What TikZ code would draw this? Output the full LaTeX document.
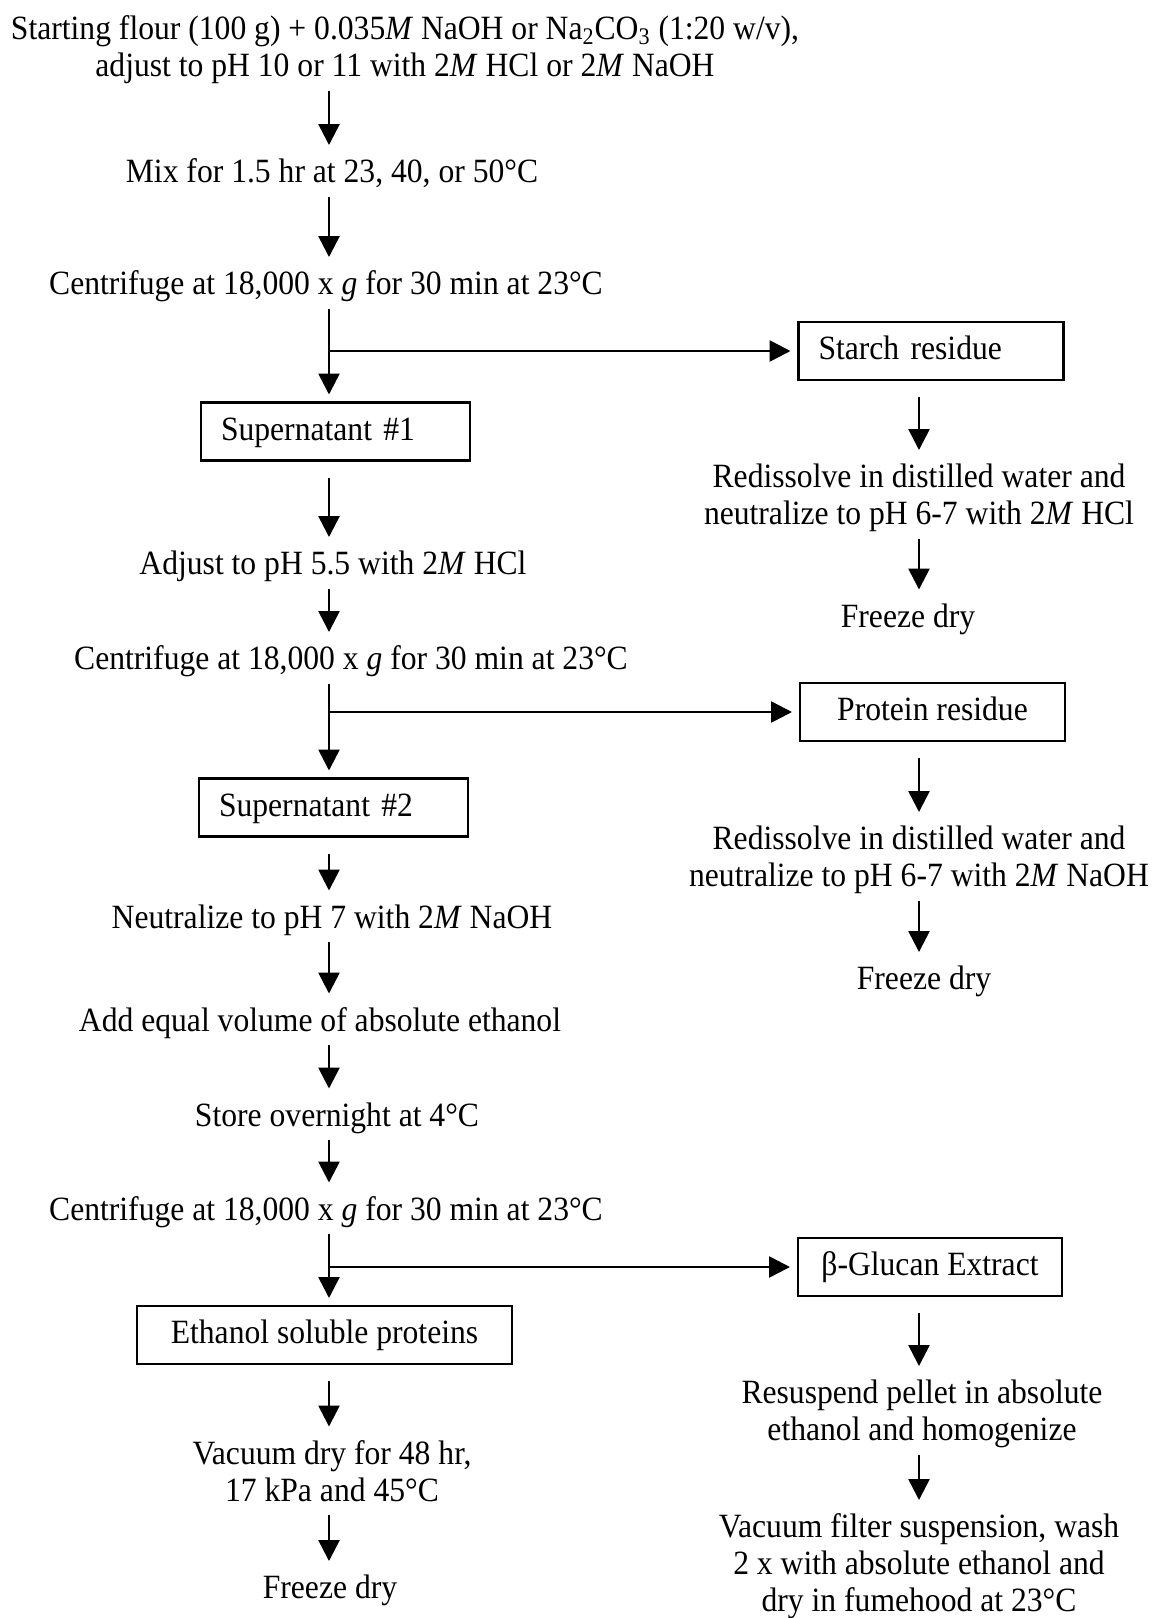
\documentclass[tikz,border=0pt]{standalone}
\usepackage{fontspec}
\setmainfont{Liberation Serif}[FakeStretch=0.93]
\usetikzlibrary{arrows.meta}
\newcommand{\mys}{\rule[-0.22em]{0pt}{0.94em}}
\begin{document}
\begin{tikzpicture}[x=0.5pt,y=-0.5pt,
  every node/.style={font=\fontsize{17}{18.5}\selectfont},
  txt/.style={inner sep=0pt, outer xsep=0pt, outer ysep=3.5pt, align=center},
  box/.style={draw, line width=1.2pt, inner sep=0pt, minimum height=29pt, outer sep=4pt, align=center},
  lbox/.style={box, inner xsep=10pt, text width=#1, align=left},
  arr/.style={line width=1.3pt, -{Triangle[length=10.5pt,width=10.5pt]}},
  from box/.style={shorten <=4.5pt},
  totxt/.style={shorten >=3pt}
]
\useasboundingbox (0,0) rectangle (1155,1618);
\coordinate (L) at (329,0);
\coordinate (R) at (919,0);

% left column
\node[txt] (t1) at (405,49.5) {\mys Starting flour (100 g) + 0.035\textit{M} NaOH or Na\textsubscript{2}CO\textsubscript{3} (1:20 w/v),\\\mys adjust to pH 10 or 11 with 2\textit{M} HCl or 2\textit{M} NaOH};
\node[txt] (t2) at (332,174) {\mys Mix for 1.5 hr at 23, 40, or 50°C};
\node[txt] (t3) at (326,286) {\mys Centrifuge at 18,000 x \textit{g} for 30 min at 23°C};
\node[lbox=112.5pt] (starch) at (931,351) {\mys Starch residue};
\node[lbox=114.5pt] (s1) at (335.5,431.5) {\mys Supernatant \#1};
\node[txt] (t4) at (333,566) {\mys Adjust to pH 5.5 with 2\textit{M} HCl};
\node[txt] (t5) at (351,661) {\mys Centrifuge at 18,000 x \textit{g} for 30 min at 23°C};
\node[box, minimum width=132.5pt] (protein) at (932.5,712) {\mys Protein residue};
\node[lbox=114.5pt] (s2) at (333.5,807.5) {\mys Supernatant \#2};
\node[txt] (t6) at (332,919.5) {\mys Neutralize to pH 7 with 2\textit{M} NaOH};
\node[txt] (t7) at (320,1022.5) {\mys Add equal volume of absolute ethanol};
\node[txt] (t8) at (337,1117.5) {\mys Store overnight at 4°C};
\node[txt] (t9) at (326,1211.5) {\mys Centrifuge at 18,000 x \textit{g} for 30 min at 23°C};
\node[box, minimum width=132pt] (glucan) at (930,1267) {\mys β-Glucan Extract};
\node[box, minimum width=187.5pt] (eth) at (324.5,1335) {\mys Ethanol soluble proteins};
\node[txt] (t10) at (332,1474) {\mys Vacuum dry for 48 hr,\\\mys 17 kPa and 45°C};
\node[txt] (t11) at (330,1590) {\mys Freeze dry};

% right column
\node[txt] (r1) at (919,497.5) {\mys Redissolve in distilled water and\\\mys neutralize to pH 6-7 with 2\textit{M} HCl};
\node[txt] (r2) at (908,618.5) {\mys Freeze dry};
\node[txt] (r3) at (919,859.5) {\mys Redissolve in distilled water and\\\mys neutralize to pH 6-7 with 2\textit{M} NaOH};
\node[txt] (r4) at (924,981) {\mys Freeze dry};
\node[txt] (r5) at (922,1413.5) {\mys Resuspend pellet in absolute\\\mys ethanol and homogenize};
\node[txt] (r6) at (919,1566) {\mys Vacuum filter suspension, wash\\\mys 2 x with absolute ethanol and\\\mys dry in fumehood at 23°C};

% connectors left
\draw[arr, totxt] (L |- t1.south) -- (L |- t2.north);
\draw[arr, totxt] (L |- t2.south) -- (L |- t3.north);
\draw[arr] (L |- t3.south) -- (L |- s1.north);
\draw[arr] (L |- starch.west) -- (starch.west);
\draw[arr, from box, totxt] (L |- s1.south) -- (L |- t4.north);
\draw[arr, totxt] (L |- t4.south) -- (L |- t5.north);
\draw[arr] (L |- t5.south) -- (L |- s2.north);
\draw[arr] (L |- protein.west) -- (protein.west);
\draw[arr, from box, totxt] (L |- s2.south) -- (L |- t6.north);
\draw[arr, totxt] (L |- t6.south) -- (L |- t7.north);
\draw[arr, totxt] (L |- t7.south) -- (L |- t8.north);
\draw[arr, totxt] (L |- t8.south) -- (L |- t9.north);
\draw[arr] (L |- t9.south) -- (L |- eth.north);
\draw[arr] (L |- glucan.west) -- (glucan.west);
\draw[arr, from box, totxt] (L |- eth.south) -- (L |- t10.north);
\draw[arr, totxt] (L |- t10.south) -- (L |- t11.north);

% connectors right
\draw[arr, from box, totxt] (R |- starch.south) -- (R |- r1.north);
\draw[arr, totxt] (R |- r1.south) -- (R |- r2.north);
\draw[arr, from box, totxt] (R |- protein.south) -- (R |- r3.north);
\draw[arr, totxt] (R |- r3.south) -- (R |- r4.north);
\draw[arr, from box, totxt] (R |- glucan.south) -- (R |- r5.north);
\draw[arr, totxt] (R |- r5.south) -- (R |- r6.north);
\end{tikzpicture}
\end{document}
